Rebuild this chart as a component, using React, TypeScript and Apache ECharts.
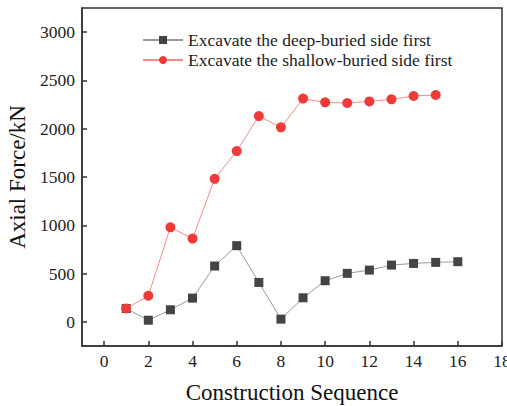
import React, { useEffect, useRef } from "react";
import * as echarts from "echarts";

const steps = [1, 2, 3, 4, 5, 6, 7, 8, 9, 10, 11, 12, 13, 14, 15, 16];
const deepValues = [138, 17, 125, 246, 578, 789, 408, 28, 249, 426, 502, 536, 588, 605, 616, 623];
const shallowValues = [138, 270, 979, 862, 1481, 1768, 2131, 2014, 2312, 2273, 2266, 2283, 2304, 2339, 2349];
const xTicks = [0, 2, 4, 6, 8, 10, 12, 14, 16, 18];
const yTicks = [0, 500, 1000, 1500, 2000, 2500, 3000];
const deepName = "Excavate the deep-buried side first";
const shallowName = "Excavate the shallow-buried side first";

const FONT = "'Liberation Serif', 'Times New Roman', serif";

export default function App() {
  const ref = useRef<HTMLDivElement>(null);
  useEffect(() => {
    if (!ref.current) return;
    const chart = echarts.init(ref.current, null, { renderer: "svg" });
    const axisLine = { show: true, onZero: false, lineStyle: { color: "#333", width: 1.5 } };
    const tick = { show: true, inside: true, length: 5, lineStyle: { color: "#333", width: 1.5 } };
    chart.setOption({
      animation: false,
      backgroundColor: "#fff",
      textStyle: { fontFamily: FONT },
      grid: {
        left: 82, right: 5, top: 8, bottom: 60,
        containLabel: false, outerBoundsMode: "none",
        show: true, borderColor: "#333", borderWidth: 1.5,
      },
      legend: {
        orient: "vertical",
        left: 137,
        top: 26,
        itemWidth: 40,
        itemHeight: 10,
        itemGap: 2,
        textStyle: { fontFamily: FONT, fontSize: 17.5, color: "#222" },
        data: [deepName, shallowName],
      },
      xAxis: {
        type: "value",
        min: -1,
        max: 18,
        name: "Construction Sequence",
        nameLocation: "middle",
        nameGap: 35,
        nameTextStyle: { fontFamily: FONT, fontSize: 23, color: "#111" },
        axisLine,
        splitLine: { show: false },
        axisTick: { ...tick, customValues: xTicks },
        axisLabel: { fontFamily: FONT, fontSize: 17.5, color: "#222", margin: 6, customValues: xTicks, formatter: (v: number) => String(v) },
      },
      yAxis: {
        type: "value",
        min: -250,
        max: 3250,
        name: "Axial Force/kN",
        nameLocation: "middle",
        nameGap: 47,
        nameTextStyle: { fontFamily: FONT, fontSize: 23, color: "#111" },
        axisLine,
        splitLine: { show: false },
        axisTick: { ...tick, customValues: yTicks },
        axisLabel: { fontFamily: FONT, fontSize: 17.5, color: "#222", margin: 7, customValues: yTicks, formatter: (v: number) => String(v) },
      },
      series: [
        {
          name: deepName,
          type: "line",
          data: steps.map((s, i) => [s, deepValues[i]]),
          symbol: "rect",
          symbolSize: 9,
          itemStyle: { color: "#444" },
          lineStyle: { color: "#9a9a9a", width: 1 },
          z: 2,
        },
        {
          name: shallowName,
          type: "line",
          data: shallowValues.map((v, i) => [steps[i], v]),
          symbol: "circle",
          symbolSize: 10,
          itemStyle: { color: "#f03a3a" },
          lineStyle: { color: "#f98a8a", width: 1 },
          z: 3,
        },
      ],
    });
    return () => chart.dispose();
  }, []);
  return <div ref={ref} style={{ width: 507, height: 406, position: "absolute", left: 0, top: 0 }} />;
}
